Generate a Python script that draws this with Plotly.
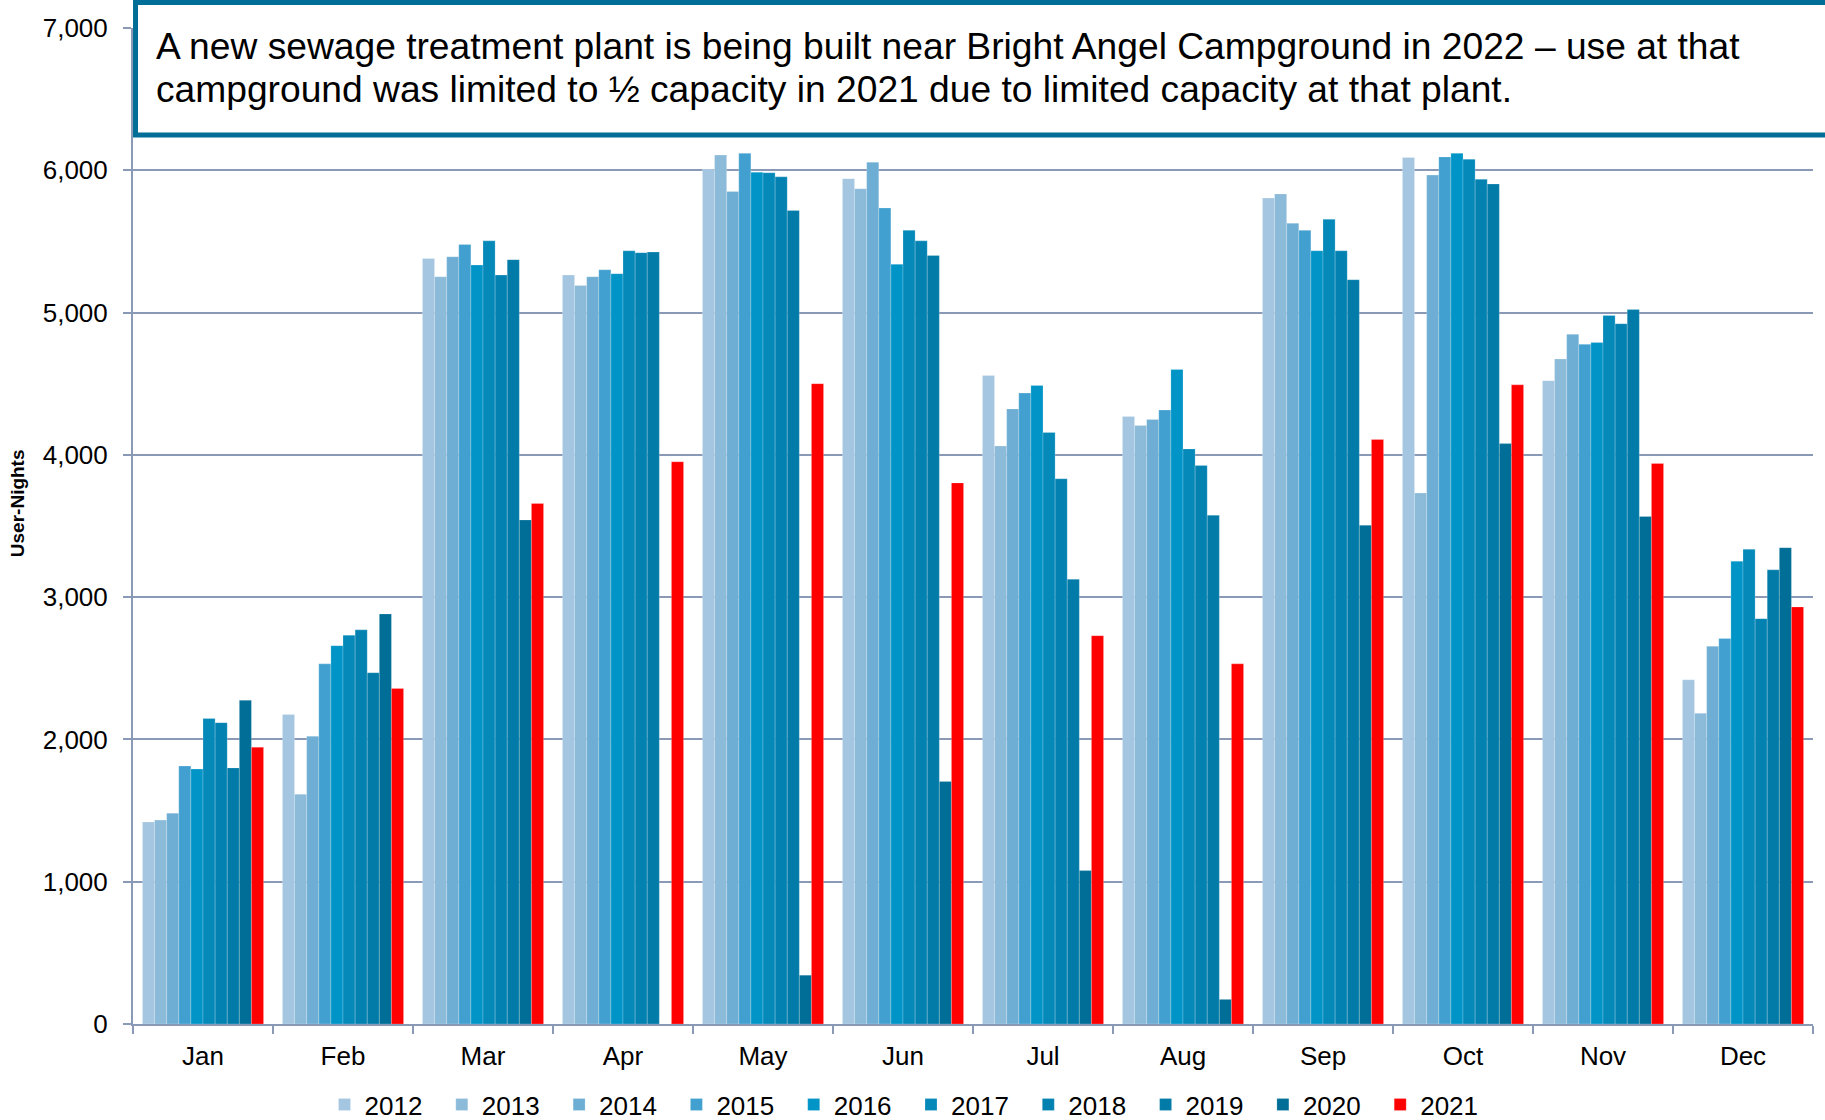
import plotly.graph_objects as go

months = ["Jan", "Feb", "Mar", "Apr", "May", "Jun", "Jul", "Aug", "Sep", "Oct", "Nov", "Dec"]

y2012 = [1420, 2176, 5380, 5264, 6007, 5941, 4558, 4269, 5805, 6090, 4521, 2419]
y2013 = [1433, 1614, 5252, 5190, 6107, 5871, 4063, 4207, 5834, 3732, 4674, 2184]
y2014 = [1482, 2023, 5392, 5252, 5851, 6057, 4323, 4249, 5628, 5966, 4847, 2655]
y2015 = [1813, 2531, 5479, 5301, 6119, 5735, 4434, 4315, 5578, 6094, 4777, 2709]
y2016 = [1792, 2659, 5334, 5273, 5987, 5339, 4488, 4600, 5434, 6119, 4789, 3253]
y2017 = [2147, 2733, 5504, 5434, 5983, 5578, 4158, 4042, 5656, 6078, 4979, 3336]
y2018 = [2118, 2770, 5264, 5421, 5954, 5504, 3832, 3926, 5434, 5937, 4922, 2849]
y2019 = [1800, 2469, 5372, 5425, 5718, 5401, 3126, 3576, 5231, 5904, 5021, 3192]
y2020 = [2275, 2882, 3543, None, 343, 1705, 1078, 173, 3505, 4079, 3567, 3348]
y2021 = [1945, 2358, 3658, 3951, 4500, 3803, 2729, 2531, 4108, 4492, 3939, 2931]

series = [
    ("2012", y2012, "#A4C6E0"),
    ("2013", y2013, "#8CBBDA"),
    ("2014", y2014, "#6FAED4"),
    ("2015", y2015, "#42A0D0"),
    ("2016", y2016, "#0094C7"),
    ("2017", y2017, "#0589B9"),
    ("2018", y2018, "#0382B2"),
    ("2019", y2019, "#027BA8"),
    ("2020", y2020, "#006E96"),
    ("2021", y2021, "#FF0000"),
]

note_lines = [
    "A new sewage treatment plant is being built near Bright Angel Campground in 2022 \u2013 use at that",
    "campground was limited to \u00bd capacity in 2021 due to limited capacity at that plant.",
]

axis_col = "#8A9AB6"
font = "Liberation Sans, Arial, sans-serif"

fig = go.Figure()
for name, vals, col in series:
    fig.add_trace(go.Bar(
        x=months, y=vals,
        name=name + "\u00a0\u00a0",  # pad legend entries a little
        marker=dict(color=col, line=dict(color="rgba(255,255,255,0.35)", width=0.6)),
    ))

fig.update_layout(
    width=1825, height=1120,
    margin=dict(l=133, r=12, t=28, b=96, autoexpand=False),
    barmode="group", bargap=0.135, bargroupgap=0,
    plot_bgcolor="white", paper_bgcolor="white",
    font=dict(family=font, size=26, color="black"),
    showlegend=True,
    legend=dict(orientation="h", x=0.114, xanchor="left", y=-0.081, yanchor="middle",
                font=dict(size=26), itemwidth=30, traceorder="normal"),
    xaxis=dict(showline=True, linecolor=axis_col, linewidth=2, ticks="outside",
               tickson="boundaries", ticklen=8, tickcolor=axis_col, tickwidth=2,
               ticklabelstandoff=8, showgrid=False),
    yaxis=dict(range=[0, 7000], dtick=1000, tickformat=",d", showline=True,
               linecolor=axis_col, linewidth=2, ticks="outside", ticklen=8,
               tickcolor=axis_col, tickwidth=2, gridcolor=axis_col, gridwidth=1.5,
               ticklabelstandoff=10, zeroline=False),
)

# note box over the top of the plot
fig.add_shape(type="rect", xref="paper", yref="paper", x0=0.0015, x1=1.05, y0=0.8925, y1=1.0256,
              fillcolor="white", line=dict(color="#006E96", width=5), layer="above")
for line, ypos in zip(note_lines, [0.9824, 0.9383]):
    fig.add_annotation(text=line, xref="paper", yref="paper", x=0.0125, y=ypos,
                       xanchor="left", yanchor="middle", align="left", showarrow=False,
                       font=dict(size=37.2, color="black"))

fig.add_annotation(text="<b>User-Nights</b>", xref="paper", yref="paper", x=-0.069, y=0.523,
                   xanchor="center", yanchor="middle", textangle=-90, showarrow=False,
                   font=dict(size=19, color="black"))

fig.write_html("out.html", config={"displayModeBar": False},
               post_script="document.body.style.margin='0';")
